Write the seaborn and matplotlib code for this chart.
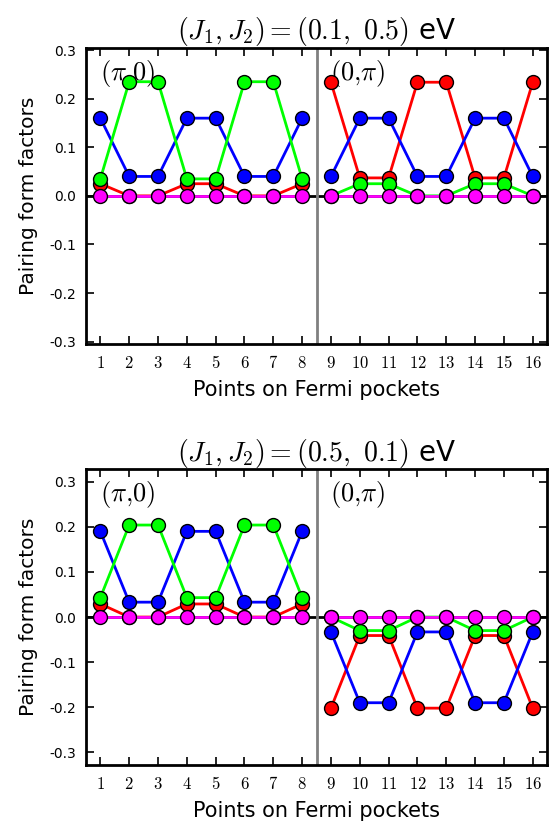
import matplotlib
matplotlib.use("Agg")
import matplotlib.pyplot as plt
import pandas as pd
import seaborn as sns

# data
points = list(range(1, 17))
series_names = ["red", "blue", "green", "magenta"]
series_colors = {"red": "#ff0000", "blue": "#0000ff", "green": "#00ff00", "magenta": "#ff00ff"}

top_title = r"$(J_1,J_2)=(0.1,\ 0.5)$ eV"
top_red = [0.025, 0, 0, 0.025, 0.025, 0, 0, 0.025, 0.234, 0.037, 0.037, 0.234, 0.234, 0.037, 0.037, 0.234]
top_blue = [0.16, 0.04, 0.04, 0.16, 0.16, 0.04, 0.04, 0.16, 0.04, 0.16, 0.16, 0.04, 0.04, 0.16, 0.16, 0.04]
top_green = [0.035, 0.235, 0.235, 0.035, 0.035, 0.235, 0.235, 0.035, 0, 0.025, 0.025, 0, 0, 0.025, 0.025, 0]
top_magenta = [0, 0, 0, 0, 0, 0, 0, 0, 0, 0, 0, 0, 0, 0, 0, 0]

bot_title = r"$(J_1,J_2)=(0.5,\ 0.1)$ eV"
bot_red = [0.029, 0, 0, 0.029, 0.029, 0, 0, 0.029, -0.202, -0.041, -0.041, -0.202, -0.202, -0.041, -0.041, -0.202]
bot_blue = [0.19, 0.033, 0.033, 0.19, 0.19, 0.033, 0.033, 0.19, -0.033, -0.19, -0.19, -0.033, -0.033, -0.19, -0.19, -0.033]
bot_green = [0.043, 0.204, 0.204, 0.043, 0.043, 0.204, 0.204, 0.043, 0, -0.03, -0.03, 0, 0, -0.03, -0.03, 0]
bot_magenta = [0, 0, 0, 0, 0, 0, 0, 0, 0, 0, 0, 0, 0, 0, 0, 0]

pocket_labels = [r"$(\pi{,}0)$", r"$(0{,}\pi)$"]
pocket_label_x = [0.98, 8.98]
y_ticks = [-0.3, -0.2, -0.1, 0.0, 0.1, 0.2, 0.3]


def to_frame(red, blue, green, magenta):
    rows = []
    for name, vals in zip(series_names, [red, blue, green, magenta]):
        for p, v in zip(points, vals):
            rows.append({"point": p, "value": v, "series": name, "pocket": 0 if p <= 8 else 1})
    return pd.DataFrame(rows)


def draw_panel(ax, df, title, ylim):
    ax.axhline(0, color="k", lw=2, zorder=1.5)
    ax.axvline(8.5, color="#808080", lw=2, zorder=1.5)
    sns.lineplot(
        data=df, x="point", y="value", hue="series", units="pocket", estimator=None,
        hue_order=series_names, palette=series_colors, marker="o", markersize=10,
        markeredgecolor="k", markeredgewidth=1, lw=2, legend=False, ax=ax, zorder=3,
    )
    ax.set_xlim(0.5, 16.5)
    ax.set_ylim(*ylim)
    ax.set_xticks(points)
    ax.set_xticklabels([f"${p}$" for p in points], fontsize=12)
    ax.set_yticks(y_ticks)
    ax.set_yticklabels([f"{t:.1f}" for t in y_ticks], fontsize=10)
    ax.tick_params(direction="in", top=True, right=True, length=6, width=1.2, pad=7, colors="k")
    for s in ax.spines.values():
        s.set_linewidth(2)
        s.set_color("k")
    ax.set_xlabel("Points on Fermi pockets", fontsize=15, labelpad=6)
    ax.set_ylabel("Pairing form factors", fontsize=14.5, labelpad=8)
    ax.set_title(title, fontsize=20, pad=6)
    # pocket labels sit under the markers
    for x, lab in zip(pocket_label_x, pocket_labels):
        ax.text(x, 0.965, lab, transform=ax.get_xaxis_transform(), va="top", ha="left",
                fontsize=19, zorder=2)


sns.set_style("ticks")
plt.rcParams["font.family"] = ["DejaVu Sans"]
plt.rcParams["mathtext.fontset"] = "cm"
plt.rcParams["axes.unicode_minus"] = False
plt.rcParams["text.color"] = "k"
plt.rcParams["axes.labelcolor"] = "k"

fig = plt.figure(figsize=(5.51, 8.23), dpi=100)
ax_top = fig.add_axes([0.156, 0.582, 0.837, 0.360])
ax_bot = fig.add_axes([0.156, 0.0705, 0.837, 0.3595])

draw_panel(ax_top, to_frame(top_red, top_blue, top_green, top_magenta), top_title, (-0.305, 0.305))
draw_panel(ax_bot, to_frame(bot_red, bot_blue, bot_green, bot_magenta), bot_title, (-0.328, 0.328))

fig.savefig("out.png", dpi=100)
